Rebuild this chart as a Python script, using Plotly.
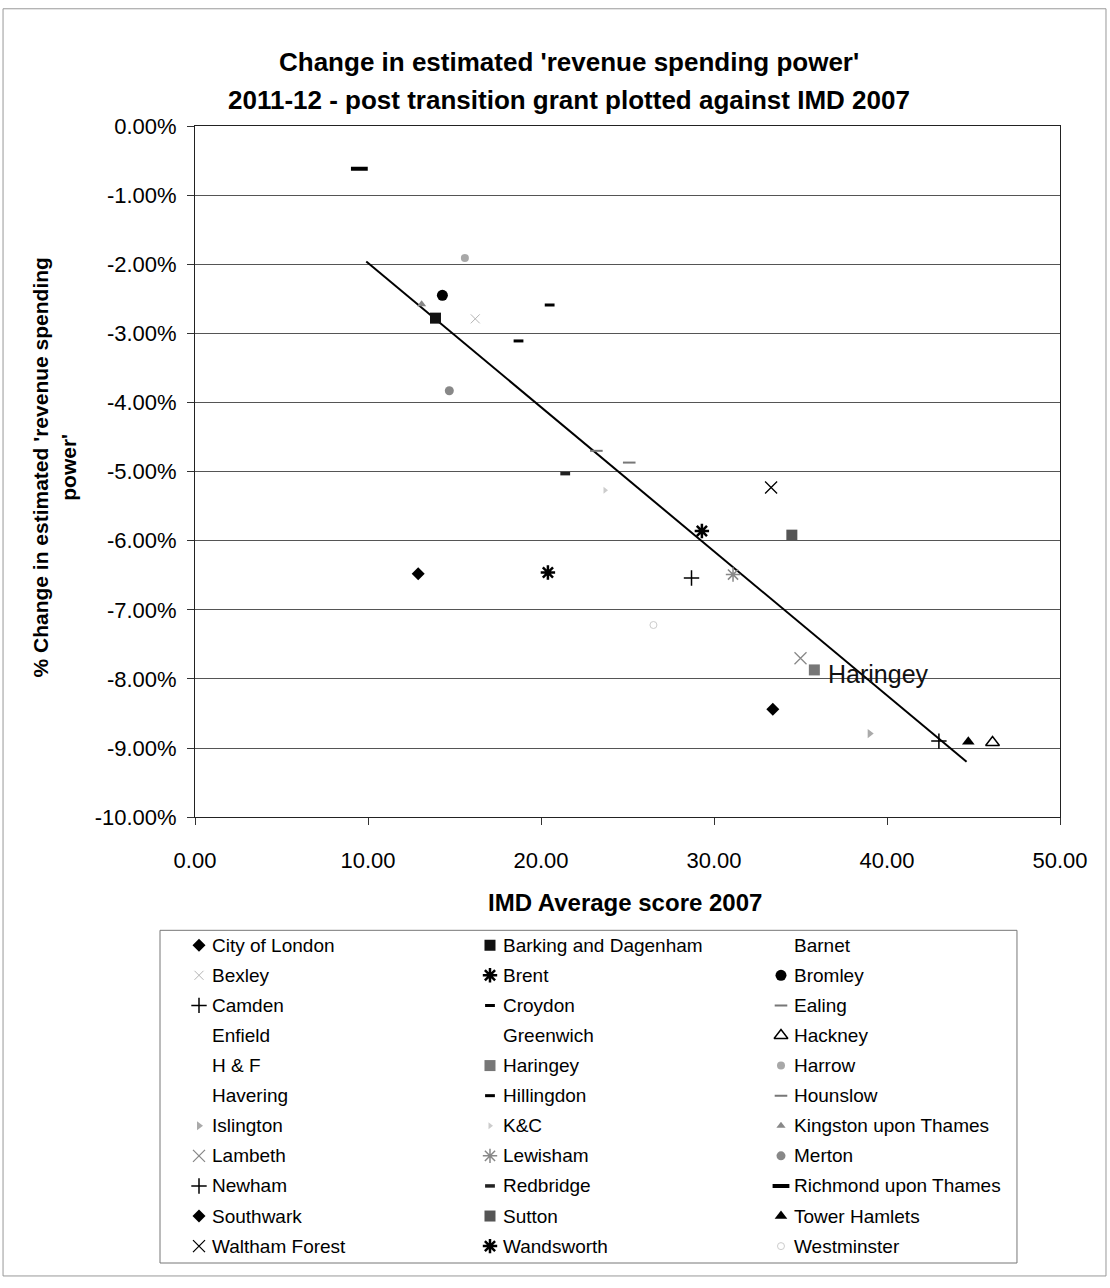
import plotly.graph_objects as go

# London boroughs, in legend order (row by row, three per row)
boroughs = [
    "City of London", "Barking and Dagenham", "Barnet",
    "Bexley", "Brent", "Bromley",
    "Camden", "Croydon", "Ealing",
    "Enfield", "Greenwich", "Hackney",
    "H & F", "Haringey", "Harrow",
    "Havering", "Hillingdon", "Hounslow",
    "Islington", "K&C", "Kingston upon Thames",
    "Lambeth", "Lewisham", "Merton",
    "Newham", "Redbridge", "Richmond upon Thames",
    "Southwark", "Sutton", "Tower Hamlets",
    "Waltham Forest", "Wandsworth", "Westminster",
]

# IMD 2007 average score (None where the marker is not visible)
imd_2007 = [
    12.9, 13.9, None,
    16.2, 29.3, 14.3,
    28.7, 20.5, 25.1,
    None, None, 46.1,
    None, 35.8, 15.6,
    None, 18.7, 23.2,
    39.0, 23.7, 13.1,
    35.0, 31.1, 14.7,
    43.0, 21.4, 9.5,
    33.4, 34.5, 44.7,
    33.3, 20.4, 26.5,
]

# % change in estimated revenue spending power 2011-12
rsp_change = [
    -6.48, -2.78, None,
    -2.79, -5.86, -2.45,
    -6.54, -2.59, -4.87,
    None, None, -8.92,
    None, -7.87, -1.91,
    None, -3.11, -4.70,
    -8.79, -5.27, -2.58,
    -7.70, -6.49, -3.83,
    -8.90, -5.03, -0.62,
    -8.44, -5.92, -8.91,
    -5.23, -6.46, -7.22,
]

# Linear trend line end points
trend_x = [9.9, 44.6]
trend_y = [-1.96, -9.20]

x_ticks = [0, 10, 20, 30, 40, 50]
y_ticks = [0, -1, -2, -3, -4, -5, -6, -7, -8, -9, -10]

FONT = "Liberation Sans, Arial, sans-serif"
CLEAR = "rgba(0,0,0,0)"

# symbol, size, colour, outline width
styles = {
    "City of London": ("diamond", 10, "#000000", 0),
    "Barking and Dagenham": ("square", 11, "#111111", 0),
    "Barnet": ("triangle-up", 9, CLEAR, 0),
    "Bexley": ("x-thin-open", 9, "#b5b5b5", 1),
    "Brent": ("asterisk-open", 12, "#000000", 2.5),
    "Bromley": ("circle", 11, "#000000", 0),
    "Camden": ("cross-thin-open", 11, "#000000", 1.5),
    "Croydon": ("line-ew-open", 7, "#000000", 3),
    "Ealing": ("line-ew-open", 9, "#777777", 2),
    "Enfield": ("diamond", 9, CLEAR, 0),
    "Greenwich": ("square", 9, CLEAR, 0),
    "Hackney": ("triangle-up-open", 12, "#000000", 1.5),
    "H & F": ("x-thin-open", 9, CLEAR, 0),
    "Haringey": ("square", 11, "#777777", 0),
    "Harrow": ("circle", 8, "#a8a8a8", 0),
    "Havering": ("circle", 9, CLEAR, 0),
    "Hillingdon": ("line-ew-open", 7, "#000000", 3),
    "Hounslow": ("line-ew-open", 9, "#777777", 2),
    "Islington": ("triangle-right", 8, "#aaaaaa", 0),
    "K&C": ("triangle-right", 6, "#cccccc", 0),
    "Kingston upon Thames": ("triangle-up", 8, "#888888", 0),
    "Lambeth": ("x-thin-open", 12, "#888888", 1.3),
    "Lewisham": ("asterisk-open", 12, "#888888", 1.5),
    "Merton": ("circle", 9, "#888888", 0),
    "Newham": ("cross-thin-open", 11, "#000000", 1.5),
    "Redbridge": ("line-ew-open", 7, "#222222", 3.5),
    "Richmond upon Thames": ("line-ew-open", 12, "#000000", 4),
    "Southwark": ("diamond", 10, "#000000", 0),
    "Sutton": ("square", 11, "#555555", 0),
    "Tower Hamlets": ("triangle-up", 11, "#000000", 0),
    "Waltham Forest": ("x-thin-open", 12, "#000000", 1.3),
    "Wandsworth": ("asterisk-open", 12, "#000000", 2.5),
    "Westminster": ("circle-open", 7, "#cccccc", 1),
}


def marker_for(name):
    sym, size, color, lw = styles[name]
    return dict(symbol=sym, size=size, color=color,
                line=dict(color=color, width=lw))


fig = go.Figure()

# trend line
fig.add_trace(go.Scatter(
    x=trend_x, y=trend_y, mode="lines",
    line=dict(color="#000000", width=2),
    showlegend=False, hoverinfo="skip", xaxis="x", yaxis="y",
))

# one series per borough
for name, xv, yv in zip(boroughs, imd_2007, rsp_change):
    fig.add_trace(go.Scatter(
        x=[xv], y=[yv], mode="markers", name=name,
        marker=marker_for(name), showlegend=False,
        xaxis="x", yaxis="y",
    ))

# legend panel: three columns, eleven rows (pixel-scaled axes)
leg_col_x = [199, 490, 781]
leg_row0 = 951
leg_row_gap = 30.3
annotations = []
for i, name in enumerate(boroughs):
    lx = leg_col_x[i % 3]
    ly = leg_row0 + leg_row_gap * (i // 3)
    fig.add_trace(go.Scatter(
        x=[lx], y=[ly], mode="markers", marker=marker_for(name),
        showlegend=False, hoverinfo="skip", xaxis="x2", yaxis="y2",
    ))
    annotations.append(dict(
        x=lx + 11, y=ly, xref="x2", yref="y2", text=name,
        showarrow=False, xanchor="left", yanchor="middle",
        font=dict(family=FONT, size=19, color="#000000"),
    ))

# titles
annotations += [
    dict(x=0.4544, y=1.0559, xref="paper", yref="paper",
         text="<b>Change in estimated 'revenue spending power'</b>",
         showarrow=False, xanchor="center", yanchor="middle",
         font=dict(family=FONT, size=26, color="#000000")),
    dict(x=0.4544, y=1.0227, xref="paper", yref="paper",
         text="<b>2011-12 - post transition grant plotted against IMD 2007</b>",
         showarrow=False, xanchor="center", yanchor="middle",
         font=dict(family=FONT, size=26, color="#000000")),
    dict(x=0.5167, y=0.3170, xref="paper", yref="paper",
         text="<b>IMD Average score 2007</b>",
         showarrow=False, xanchor="center", yanchor="middle",
         font=dict(family=FONT, size=24, color="#000000")),
    dict(x=-0.1178, y=0.6996, xref="paper", yref="paper",
         text="<b>% Change in estimated 'revenue spending<br>power'</b>",
         showarrow=False, xanchor="center", yanchor="middle", textangle=-90,
         font=dict(family=FONT, size=21, color="#000000")),
]

# point label for Haringey
h = boroughs.index("Haringey")
annotations.append(dict(
    x=imd_2007[h], y=rsp_change[h], xref="x", yref="y", text="Haringey",
    showarrow=False, xanchor="left", yanchor="middle", xshift=12, yshift=-4,
    font=dict(family=FONT, size=25, color="#111111"),
))

shapes = [
    # legend frame
    dict(type="rect", xref="x2 domain", yref="y2 domain", x0=0, x1=1, y0=0, y1=1,
         line=dict(color="#777777", width=1)),
    # chart frame
    dict(type="rect", xref="paper", yref="paper", x0=-0.1744, x1=1.0511,
         y0=-0.0114, y1=1.1031, line=dict(color="#999999", width=1)),
]

fig.update_layout(
    width=1110, height=1288,
    margin=dict(l=160, r=50, t=126, b=17),
    paper_bgcolor="#ffffff", plot_bgcolor="#ffffff",
    font=dict(family=FONT, color="#000000"),
    showlegend=False,
    annotations=annotations,
    shapes=shapes,
    xaxis=dict(
        domain=[0.03889, 1], range=[0, 50], anchor="y",
        tickvals=x_ticks, ticktext=[f"{v:.2f}" for v in x_ticks],
        ticks="outside", ticklen=7, tickcolor="#333333",
        showline=True, linecolor="#222222", linewidth=1, mirror=True,
        showgrid=False, zeroline=False,
        tickfont=dict(family=FONT, size=22, color="#000000"),
        ticklabelstandoff=16,
    ),
    yaxis=dict(
        domain=[0.39214, 1], range=[-10, 0], anchor="x",
        tickvals=y_ticks, ticktext=[f"{v:.2f}%" for v in y_ticks],
        ticks="outside", ticklen=7, tickcolor="#333333",
        showline=True, linecolor="#222222", linewidth=1, mirror=True,
        showgrid=True, gridcolor="#555555", gridwidth=1, zeroline=False,
        tickfont=dict(family=FONT, size=22, color="#000000"),
        ticklabelstandoff=6,
    ),
    xaxis2=dict(domain=[0, 0.9522], range=[160, 1017], anchor="y2",
                visible=False, fixedrange=True),
    yaxis2=dict(domain=[0, 0.2926], range=[1271, 936], anchor="x2",
                visible=False, fixedrange=True),
)

fig.write_html("out.html")
